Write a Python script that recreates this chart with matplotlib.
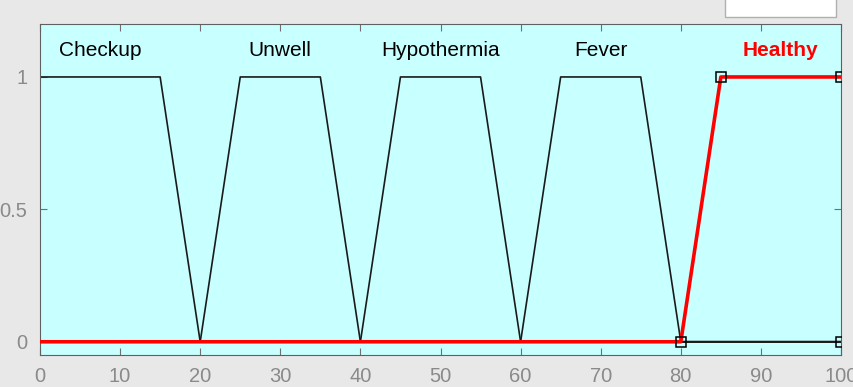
import matplotlib.pyplot as plt
from matplotlib.patches import Rectangle

# membership functions (trapezoid params a, b, c, d)
mf_names = ['Checkup', 'Unwell', 'Hypothermia', 'Fever', 'Healthy']
mf_params = [
    [0, 0, 15, 20],
    [20, 25, 35, 40],
    [40, 45, 55, 60],
    [60, 65, 75, 80],
    [80, 85, 100, 100],
]
label_x = [7.5, 30, 50, 70, 92.5]
selected = 4

x_min, x_max = 0, 100
xticks = [0, 10, 20, 30, 40, 50, 60, 70, 80, 90, 100]
yticks = [0, 0.5, 1]

plt.rcParams['font.family'] = ['Liberation Sans', 'DejaVu Sans']

fig = plt.figure(figsize=(8.54, 3.87), dpi=100, facecolor='#e8e8e8')
ax = fig.add_axes([40/854, 32/387, 801/854, 331/387])
ax.set_facecolor('#c8ffff')

def verts(p):
    a, b, c, d = p
    xs = [x_min, a, b, c, d, x_max]
    ys = [0, 0, 1, 1, 0, 0]
    return xs, ys

for i, p in enumerate(mf_params):
    if i == selected:
        continue
    xs, ys = verts(p)
    ax.plot(xs, ys, color='#1a1a1a', lw=1.2, zorder=2)

# selected one in red, vertices as squares
a, b, c, d = mf_params[selected]
ax.plot([x_min, a, b, c], [0, 0, 1, 1], color='red', lw=2.6, zorder=3)
ax.plot([a, b, c, d], [0, 1, 1, 0], ls='none', marker='s', ms=7,
        mfc='none', mec='black', mew=1.1, zorder=4)

for i, name in enumerate(mf_names):
    if i == selected:
        ax.text(label_x[i], 1.1, name, color='red', fontsize=15, fontweight='bold',
                ha='center', va='center')
    else:
        ax.text(label_x[i], 1.1, name, color='black', fontsize=15,
                ha='center', va='center')

ax.set_xlim(x_min, x_max)
ax.set_ylim(-0.05, 1.2)
ax.set_xticks(xticks)
ax.set_yticks(yticks)
ax.set_yticklabels(['0', '0.5', '1'])
ax.tick_params(direction='in', length=5, top=True, right=True, colors='#707070',
               labelsize=14.5, labelcolor='#8a8a8a', pad=9)
for s in ax.spines.values():
    s.set_color('#606060')

# white box at top right (cut off legend/title area)
fig.patches.append(Rectangle((725/854, 370/387), 111/854, 20/387, transform=fig.transFigure,
                             facecolor='white', edgecolor='#b0b0b0', lw=1))

fig.savefig('out.png', dpi=100, facecolor=fig.get_facecolor())
